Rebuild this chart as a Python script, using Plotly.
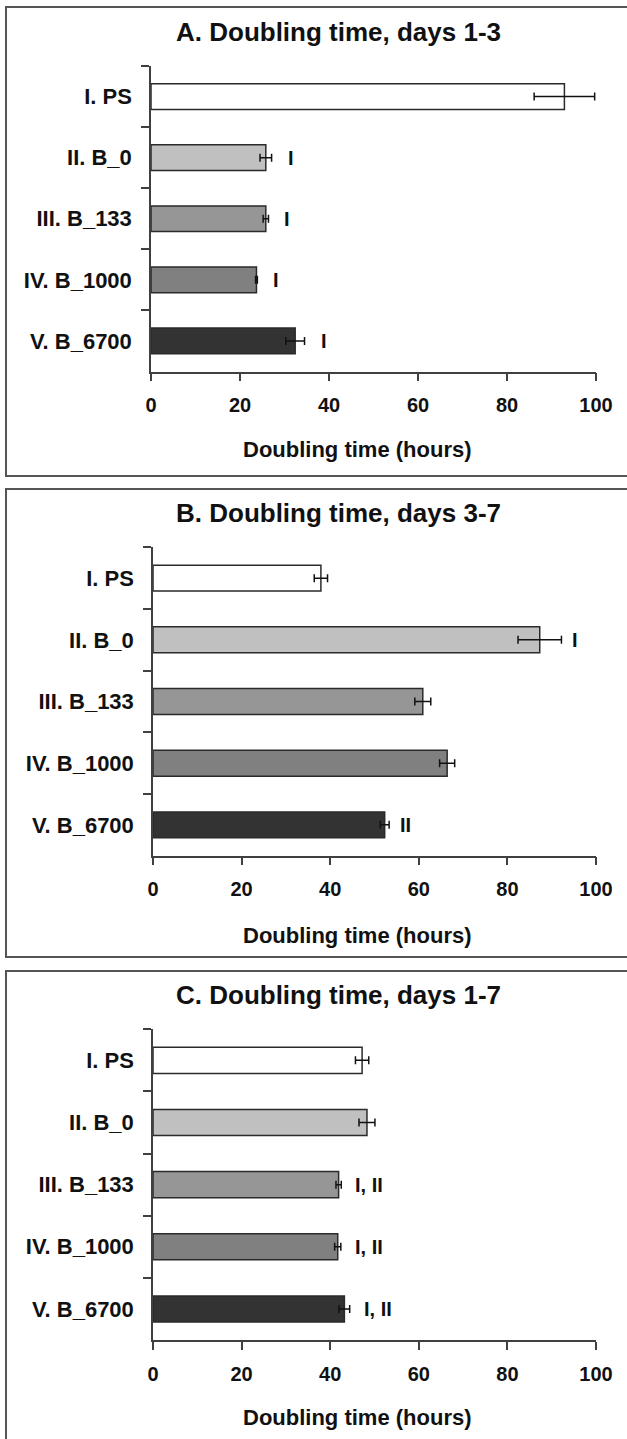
import plotly.graph_objects as go

W, H = 627, 1439

# Treatment groups (top to bottom)
categories = ["I. PS", "II. B_0", "III. B_133", "IV. B_1000", "V. B_6700"]
bar_colors = ["#FFFFFF", "#C0C0C0", "#969696", "#808080", "#333333"]

# Doubling time (hours): mean and error per group, with significance marks
days_1_3 = [92.9, 25.8, 25.8, 23.7, 32.4]
err_1_3 = [6.8, 1.3, 0.6, 0.2, 2.1]
sig_1_3 = ["", "I", "I", "I", "I"]

days_3_7 = [37.9, 87.3, 60.9, 66.4, 52.3]
err_3_7 = [1.5, 4.9, 1.8, 1.7, 1.0]
sig_3_7 = ["", "I", "", "", "II"]

days_1_7 = [47.2, 48.3, 41.9, 41.7, 43.2]
err_1_7 = [1.5, 1.8, 0.6, 0.7, 1.2]
sig_1_7 = ["", "", "I, II", "I, II", "I, II"]

titles = ["A. Doubling time, days 1-3", "B. Doubling time, days 3-7", "C. Doubling time, days 1-7"]
x_title = "Doubling time (hours)"
x_ticks = [0, 20, 40, 60, 80, 100]

panels = [
    (days_1_3, err_1_3, sig_1_3),
    (days_3_7, err_3_7, sig_3_7),
    (days_1_7, err_1_7, sig_1_7),
]

# Pixel layout of each panel: plot left, plot right, plot top, plot bottom,
# frame top, frame bottom, title y, axis-title y, label gap
layout_px = [
    dict(l=151, r=596, t=66, b=371.5, ft=7, fb=476, ty=32, ay=450, gap=14),
    dict(l=153, r=596, t=547.3, b=855.7, ft=489, fb=957, ty=513, ay=935, gap=9),
    dict(l=153, r=596, t=1029.3, b=1340, ft=971, fb=1460, ty=995, ay=1417, gap=12),
]

FONT = "Liberation Sans, Arial, sans-serif"
AXIS_COLOR = "#404040"


def px_x(v):
    return v / W


def px_y(v):
    return 1 - v / H


fig = go.Figure()
annotations = []
shapes = []

for i, ((vals, errs, sigs), lp) in enumerate(zip(panels, layout_px)):
    n = "" if i == 0 else str(i + 1)
    xa, ya = "x" + n, "y" + n
    fig.add_trace(go.Bar(
        x=vals, y=categories, orientation="h",
        marker=dict(color=bar_colors, line=dict(color="#2a2a2a", width=1.5)),
        width=0.42,
        error_x=dict(type="data", array=errs, visible=True,
                     color="#111111", thickness=1.5, width=4),
        xaxis=xa, yaxis=ya, showlegend=False, hoverinfo="x+y",
    ))

    axis_common = dict(
        showline=True, linecolor=AXIS_COLOR, linewidth=1.5,
        ticks="outside", ticklen=8, tickwidth=1.5, tickcolor=AXIS_COLOR,
        showgrid=False, zeroline=False, automargin=False,
    )
    fig.layout["xaxis" + n] = dict(
        domain=[px_x(lp["l"]), px_x(lp["r"])], anchor=ya,
        range=[0, 100], tickvals=x_ticks,
        tickfont=dict(family=FONT, size=20, color="#111111", weight="bold"),
        ticklabelstandoff=7,
        **axis_common,
    )
    fig.layout["yaxis" + n] = dict(
        domain=[px_y(lp["b"]), px_y(lp["t"])], anchor=xa,
        type="category", categoryorder="array", categoryarray=categories,
        autorange="reversed", tickson="boundaries",
        tickfont=dict(family=FONT, size=22, color="#111111", weight="bold"),
        ticklabelstandoff=13,
        **axis_common,
    )

    # Panel title and axis title
    annotations.append(dict(
        text=titles[i], xref="paper", yref="paper",
        x=px_x(338), y=px_y(lp["ty"]), xanchor="center", yanchor="middle",
        showarrow=False,
        font=dict(family=FONT, size=26, color="#111111", weight="bold"),
    ))
    annotations.append(dict(
        text=x_title, xref="paper", yref="paper",
        x=px_x(357), y=px_y(lp["ay"]), xanchor="center", yanchor="middle",
        showarrow=False,
        font=dict(family=FONT, size=22, color="#111111", weight="bold"),
    ))

    # Significance marks to the right of each error bar
    for cat, v, e, s in zip(categories, vals, errs, sigs):
        if s:
            annotations.append(dict(
                text=s, xref=xa, yref=ya, x=v + e, y=cat,
                xanchor="left", yanchor="middle", xshift=lp["gap"],
                showarrow=False,
                font=dict(family=FONT, size=20, color="#111111", weight="bold"),
            ))

    # Frame around the panel
    shapes.append(dict(
        type="rect", xref="paper", yref="paper",
        x0=px_x(6), x1=px_x(W + 20), y0=px_y(lp["fb"]), y1=px_y(lp["ft"]),
        line=dict(color="#555555", width=2), fillcolor="rgba(0,0,0,0)",
    ))

fig.update_layout(
    width=W, height=H,
    margin=dict(l=0, r=0, t=0, b=0, autoexpand=False),
    paper_bgcolor="white", plot_bgcolor="white",
    annotations=annotations, shapes=shapes,
    font=dict(family=FONT),
)

fig.write_html("out.html", config={"displayModeBar": False})
